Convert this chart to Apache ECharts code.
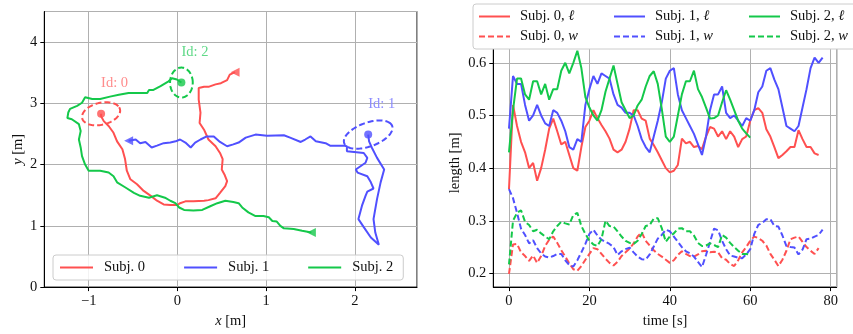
<!DOCTYPE html>
<html>
<head>
<meta charset="utf-8">
<script src="https://cdn.jsdelivr.net/npm/echarts@6/dist/echarts.min.js"></script>
<style>
  html, body { margin: 0; padding: 0; background: #fff; }
  #chart { width: 853px; height: 334px; }
</style>
</head>
<body>
<div id="chart"></div>
<script>
const subjects = ['Subj. 0', 'Subj. 1', 'Subj. 2'];
const idLabels = ['Id: 0', 'Id: 1', 'Id: 2'];
const colors = ['#ff5050', '#5050ff', '#14c84a'];
const idColors = ['#ff8c8c', '#8c8cff', '#5fd987'];

// trajectories [x, y] in m, first point = start (triangle), last = current (dot)
const path0 = [[0.65,3.51],[0.59,3.47],[0.56,3.38],[0.49,3.33],[0.43,3.31],[0.35,3.27],[0.30,3.27],[0.24,3.25],
  [0.24,3.06],[0.26,2.85],[0.25,2.68],[0.30,2.57],[0.35,2.41],[0.43,2.30],[0.48,2.19],[0.51,2.09],[0.50,1.92],
  [0.53,1.84],[0.56,1.73],[0.54,1.65],[0.48,1.54],[0.43,1.45],[0.35,1.42],[0.30,1.41],[0.18,1.40],[0.09,1.40],
  [0.03,1.37],[0.0,1.34],[-0.08,1.34],[-0.155,1.35],[-0.23,1.41],[-0.30,1.49],[-0.38,1.57],[-0.455,1.68],
  [-0.53,1.76],[-0.57,1.90],[-0.59,2.09],[-0.62,2.25],[-0.68,2.38],[-0.72,2.52],[-0.775,2.63],[-0.83,2.71],
  [-0.86,2.79],[-0.86,2.83]];
const path1 = [[-0.55,2.39],[-0.47,2.41],[-0.42,2.35],[-0.36,2.37],[-0.29,2.28],[-0.23,2.31],[-0.155,2.35],
  [-0.08,2.36],[-0.02,2.38],[0.03,2.41],[0.09,2.36],[0.15,2.28],[0.20,2.36],[0.26,2.41],[0.33,2.46],[0.41,2.46],
  [0.48,2.37],[0.56,2.30],[0.63,2.33],[0.69,2.36],[0.77,2.44],[0.88,2.49],[1.01,2.47],[1.20,2.48],[1.27,2.44],
  [1.39,2.37],[1.44,2.41],[1.50,2.46],[1.56,2.38],[1.67,2.35],[1.72,2.31],[1.87,2.31],[1.91,2.30],[1.91,2.22],
  [2.10,2.19],[2.14,2.11],[2.12,2.03],[2.01,1.92],[2.03,1.87],[2.14,1.81],[2.18,1.71],[2.21,1.61],[2.14,1.56],
  [2.12,1.49],[2.08,1.33],[2.04,1.11],[2.10,0.98],[2.18,0.81],[2.27,0.69],[2.23,0.89],[2.21,1.11],[2.25,1.44],
  [2.29,1.71],[2.33,1.92],[2.25,2.11],[2.19,2.28],[2.16,2.38],[2.15,2.49]];
const path2 = [[1.51,0.89],[1.405,0.92],[1.31,0.95],[1.20,0.96],[1.16,1.00],[1.12,1.07],[1.07,1.08],[1.03,1.14],
  [0.97,1.16],[0.88,1.16],[0.80,1.22],[0.73,1.30],[0.69,1.37],[0.63,1.39],[0.54,1.41],[0.45,1.37],[0.37,1.32],
  [0.28,1.26],[0.18,1.25],[0.075,1.26],[0.02,1.30],[-0.023,1.37],[-0.08,1.41],[-0.14,1.46],[-0.23,1.50],
  [-0.32,1.46],[-0.42,1.49],[-0.49,1.54],[-0.59,1.63],[-0.68,1.71],[-0.72,1.81],[-0.775,1.87],[-0.87,1.90],
  [-1.0,1.90],[-1.04,2.00],[-1.075,2.14],[-1.09,2.28],[-1.11,2.41],[-1.09,2.55],[-1.11,2.66],[-1.19,2.74],
  [-1.24,2.76],[-1.23,2.85],[-1.21,2.91],[-1.13,2.96],[-1.075,3.01],[-1.04,3.10],[-0.96,3.07],[-0.87,3.07],
  [-0.76,3.11],[-0.66,3.14],[-0.55,3.17],[-0.34,3.17],[-0.32,3.22],[-0.27,3.22],[-0.19,3.28],[-0.10,3.36],
  [-0.06,3.41],[-0.006,3.39],[0.045,3.34]];
const paths = [path0, path1, path2];

// uncertainty ellipse round the current position: semi-axes (m), tilt (deg)
const ellA = [0.23, 0.31, 0.128];
const ellB = [0.17, 0.18, 0.244];
const ellTilt = [32, 35, 0];
const idRise = 0.5; // label height above the dot, m

// length / width over time, one sample per second
const dt = 1;
const len0 = [0.36,0.52,0.48,0.45,0.43,0.40,0.41,0.376,0.40,0.435,0.475,0.494,0.47,0.445,0.45,0.425,0.40,0.395,
  0.44,0.478,0.49,0.51,0.495,0.482,0.47,0.456,0.435,0.43,0.435,0.45,0.475,0.51,0.51,0.494,0.49,0.456,0.444,0.43,
  0.415,0.40,0.392,0.395,0.406,0.456,0.447,0.45,0.44,0.442,0.436,0.46,0.478,0.475,0.46,0.47,0.455,0.47,0.46,0.44,
  0.455,0.46,0.49,0.51,0.514,0.505,0.474,0.46,0.44,0.419,0.425,0.432,0.44,0.44,0.472,0.455,0.44,0.44,0.428,0.425];
const len1 = [0.475,0.575,0.56,0.56,0.52,0.49,0.50,0.52,0.50,0.485,0.48,0.51,0.505,0.49,0.47,0.44,0.435,0.455,
  0.45,0.52,0.55,0.575,0.56,0.58,0.575,0.57,0.54,0.52,0.515,0.505,0.505,0.50,0.48,0.455,0.44,0.43,0.46,0.49,0.525,
  0.57,0.585,0.59,0.54,0.51,0.495,0.48,0.465,0.445,0.425,0.46,0.51,0.54,0.54,0.555,0.505,0.495,0.50,0.49,0.48,
  0.495,0.49,0.51,0.544,0.555,0.585,0.59,0.568,0.55,0.515,0.48,0.475,0.47,0.48,0.515,0.55,0.59,0.61,0.60,0.61];
const len2 = [0.43,0.51,0.57,0.57,0.54,0.53,0.565,0.565,0.54,0.56,0.53,0.55,0.55,0.585,0.60,0.58,0.60,0.623,
  0.59,0.535,0.515,0.50,0.49,0.51,0.545,0.57,0.595,0.56,0.525,0.51,0.495,0.50,0.519,0.53,0.555,0.575,0.584,0.56,
  0.5125,0.46,0.45,0.46,0.50,0.54,0.565,0.565,0.585,0.55,0.535,0.515,0.494,0.495,0.50,0.525,0.548,0.53,0.51,0.49,
  0.475,0.466,0.458];
const wid0 = [0.199,0.255,0.256,0.24,0.233,0.224,0.234,0.22,0.233,0.252,0.264,0.27,0.258,0.244,0.232,0.219,0.208,
  0.205,0.214,0.226,0.237,0.248,0.246,0.237,0.228,0.22,0.215,0.222,0.233,0.24,0.247,0.257,0.27,0.278,0.262,0.253,
  0.244,0.237,0.232,0.226,0.22,0.225,0.235,0.242,0.237,0.233,0.232,0.236,0.242,0.243,0.24,0.241,0.24,0.229,0.226,
  0.218,0.214,0.225,0.24,0.25,0.262,0.27,0.267,0.262,0.253,0.237,0.226,0.214,0.226,0.243,0.265,0.268,0.27,0.26,
  0.25,0.243,0.237,0.248];
const wid1 = [0.36,0.343,0.315,0.285,0.273,0.257,0.263,0.248,0.238,0.232,0.23,0.233,0.237,0.237,0.225,0.216,0.213,
  0.225,0.24,0.256,0.275,0.283,0.272,0.264,0.26,0.256,0.25,0.235,0.242,0.246,0.249,0.24,0.232,0.227,0.226,0.236,
  0.251,0.266,0.273,0.283,0.28,0.27,0.26,0.25,0.242,0.238,0.232,0.222,0.212,0.235,0.26,0.285,0.282,0.262,0.246,
  0.234,0.232,0.23,0.229,0.236,0.246,0.275,0.292,0.296,0.303,0.303,0.29,0.289,0.272,0.252,0.25,0.249,0.236,0.245,
  0.265,0.266,0.27,0.273,0.283];
const wid2 = [0.217,0.30,0.315,0.32,0.298,0.292,0.28,0.283,0.276,0.27,0.265,0.28,0.29,0.298,0.295,0.293,0.311,
  0.315,0.29,0.275,0.262,0.255,0.252,0.265,0.30,0.29,0.289,0.28,0.27,0.262,0.258,0.256,0.262,0.275,0.29,0.292,
  0.304,0.305,0.286,0.26,0.27,0.276,0.285,0.286,0.28,0.28,0.272,0.258,0.252,0.253,0.257,0.254,0.25,0.273,0.268,
  0.258,0.25,0.243,0.237,0.237,0.236];
const lens = [len0, len1, len2];
const wids = [wid0, wid1, wid2];

const FONT = '"Liberation Serif", "DejaVu Serif", serif';
const FS = 14.5;
const dash = [6, 3];

const chart = echarts.init(document.getElementById('chart'));

const minus = v => String(+v.toFixed(6)).replace('-', '\u2212');
const italicTail = name => name.replace(/, (.)$/, ', {i|$1}');
const toXY = arr => arr.map((v, i) => [i * dt, v]);

function axisBase (gridIndex) {
  return {
    gridIndex,
    type: 'value',
    nameLocation: 'middle',
    nameTextStyle: {
      fontFamily: FONT, fontSize: FS, color: '#111',
      rich: { i: { fontFamily: FONT, fontSize: FS, fontStyle: 'italic', color: '#111' } }
    },
    axisLine: { show: true, onZero: false, lineStyle: { color: '#000', width: 1 } },
    axisTick: { show: true, length: 4, lineStyle: { color: '#000', width: 1 } },
    axisLabel: {
      fontFamily: FONT, fontSize: FS, color: '#111', margin: 7,
      showMinLabel: false, showMaxLabel: false,
      formatter: minus
    },
    splitLine: { show: true, lineStyle: { color: '#b0b0b0', width: 1 } }
  };
}

const series = [];

// trajectories
paths.forEach((p, k) => {
  series.push({
    name: subjects[k],
    type: 'line',
    xAxisIndex: 0, yAxisIndex: 0,
    data: p,
    symbol: 'none',
    color: colors[k],
    lineStyle: { width: 2, color: colors[k] },
    z: 3
  });
});

// start markers
series.push({
  type: 'scatter',
  xAxisIndex: 0, yAxisIndex: 0,
  data: paths.map(p => p[0]),
  symbol: 'triangle',
  symbolRotate: 90,
  symbolSize: 9,
  itemStyle: { color: params => colors[params.dataIndex] },
  z: 4
});

// current position
series.push({
  type: 'scatter',
  xAxisIndex: 0, yAxisIndex: 0,
  data: paths.map(p => p[p.length - 1]),
  symbol: 'circle',
  symbolSize: 8,
  itemStyle: { color: params => colors[params.dataIndex] },
  z: 4
});

// ellipses + Id labels
series.push({
  type: 'custom',
  xAxisIndex: 0, yAxisIndex: 0,
  data: paths.map((p, k) => [p[p.length - 1][0], p[p.length - 1][1], ellA[k], ellB[k], ellTilt[k], k]),
  encode: { x: 0, y: 1 },
  renderItem: (params, api) => {
    const cx = api.value(0), cy = api.value(1);
    const a = api.value(2), b = api.value(3);
    const th = api.value(4) * Math.PI / 180;
    const k = api.value(5);
    const pts = [];
    for (let s = 0; s <= 90; s++) {
      const u = s / 90 * 2 * Math.PI;
      pts.push(api.coord([
        cx + a * Math.cos(u) * Math.cos(th) - b * Math.sin(u) * Math.sin(th),
        cy + a * Math.cos(u) * Math.sin(th) + b * Math.sin(u) * Math.cos(th)
      ]));
    }
    const lp = api.coord([cx, cy + idRise]);
    return {
      type: 'group',
      children: [
        {
          type: 'polyline',
          shape: { points: pts },
          style: { stroke: colors[k], lineWidth: 2, lineDash: dash, fill: null }
        },
        {
          type: 'text',
          x: lp[0], y: lp[1],
          style: {
            text: idLabels[k], fill: idColors[k],
            fontFamily: FONT, fontSize: FS,
            align: 'left', verticalAlign: 'middle'
          }
        }
      ]
    };
  },
  z: 4
});

// length / width
const lenNames = subjects.map(s => s + ', \u2113');
const widNames = subjects.map(s => s + ', w');
subjects.forEach((s, k) => {
  series.push({
    name: lenNames[k],
    type: 'line',
    xAxisIndex: 1, yAxisIndex: 1,
    data: toXY(lens[k]),
    symbol: 'none',
    color: colors[k],
    lineStyle: { width: 2, color: colors[k] },
    z: 3
  });
  series.push({
    name: widNames[k],
    type: 'line',
    xAxisIndex: 1, yAxisIndex: 1,
    data: toXY(wids[k]),
    symbol: 'none',
    color: colors[k],
    lineStyle: { width: 2, color: colors[k], type: dash },
    z: 3
  });
});
const rightNames = lenNames.concat(widNames);

const legendText = {
  fontFamily: FONT, fontSize: FS, color: '#111',
  rich: { i: { fontFamily: FONT, fontSize: FS, fontStyle: 'italic', color: '#111' } }
};

const yLeft = axisBase(0);
yLeft.axisLabel.showMinLabel = true;

const option = {
  backgroundColor: '#fff',
  animation: false,
  grid: [
    { left: 44.3, top: 11.5, width: 372.7, height: 276.8, show: true, borderColor: '#000', borderWidth: 1, backgroundColor: 'transparent' },
    { left: 493.3, top: 38.6, width: 343.4, height: 253.1, show: true, borderColor: '#000', borderWidth: 1, backgroundColor: 'transparent' }
  ],
  xAxis: [
    Object.assign(axisBase(0), { min: -1.5, max: 2.7, name: '{i|x} [m]', nameGap: 25 }),
    Object.assign(axisBase(1), { min: -3.9, max: 81.5, name: 'time [s]', nameGap: 23 })
  ],
  yAxis: [
    Object.assign(yLeft, { min: 0, max: 4.5, name: '{i|y} [m]', nameGap: 19 }),
    Object.assign(axisBase(1), { min: 0.174, max: 0.646, name: 'length [m]', nameGap: 31 })
  ],
  legend: [
    {
      data: subjects,
      left: 53, top: 255,
      orient: 'horizontal',
      padding: [5, 10, 5, 6],
      itemWidth: 33, itemHeight: 14, itemGap: 38,
      itemStyle: { opacity: 0 },
      backgroundColor: 'rgba(255,255,255,0.85)',
      borderColor: '#cccccc', borderWidth: 1, borderRadius: 3,
      textStyle: Object.assign({ padding: [0, 0, 0, 6] }, legendText),
      z: 6
    },
    {
      data: rightNames,
      left: 473, top: 4,
      width: 400,
      orient: 'horizontal',
      padding: [5, 5, 5, 5],
      itemWidth: 31, itemHeight: 14, itemGap: 5,
      itemStyle: { opacity: 0 },
      backgroundColor: '#fff',
      borderColor: '#cccccc', borderWidth: 1, borderRadius: 3,
      formatter: italicTail,
      textStyle: Object.assign({ padding: [0, 0, 0, 5], width: 88, lineHeight: 15 }, legendText),
      z: 6
    }
  ],
  series
};

chart.setOption(option);
</script>
</body>
</html>
